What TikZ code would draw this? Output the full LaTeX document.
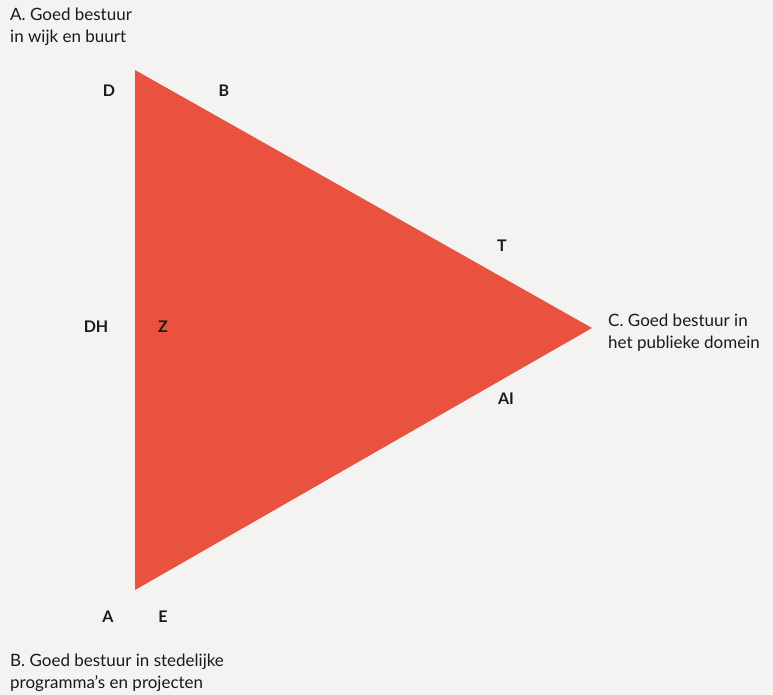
\documentclass[tikz,border=0pt]{standalone}
\usepackage{fontspec}
\setmainfont{Lato}
\definecolor{paper}{HTML}{F4F3F1}
\definecolor{tri}{HTML}{E8523F}
\definecolor{ink}{HTML}{1A1A1A}
\begin{document}
\begin{tikzpicture}[x=1pt,y=-1pt,
  caption/.style={anchor=base west,align=left,inner sep=0pt,text=ink,
    font=\fontsize{17}{22}\selectfont},
  tag/.style={anchor=center,inner sep=0pt,text=ink,
    font=\fontsize{16}{18}\selectfont\bfseries}]
  % canvas
  \fill[paper] (0,0) rectangle (773,695);
  \useasboundingbox (0,0) rectangle (773,695);
  % triangle
  \coordinate (top) at (135,70);
  \coordinate (bot) at (135,590);
  \coordinate (tip) at (592,328);
  \fill[tri] (top) -- (tip) -- (bot) -- cycle;
  % corner captions (anchored at the baseline of the last line)
  \node[caption] (capA) at (10,43) {A. Goed bestuur\\in wijk en buurt};
  \node[caption] (capC) at (608,348) {C. Goed bestuur in\\het publieke domein};
  \node[caption] (capB) at (10,688) {B. Goed bestuur in stedelijke\\programma’s en projecten};
  % letter tags
  \node[tag] (tD)  at (109,91)  {D};
  \node[tag] (tB)  at (224,91)  {B};
  \node[tag] (tT)  at (502,246) {T};
  \node[tag] (tDH) at (96,327)  {DH};
  \node[tag] (tZ)  at (163,327) {Z};
  \node[tag] (tAI) at (506,399) {AI};
  \node[tag] (tA)  at (108,617) {A};
  \node[tag] (tE)  at (163,617) {E};
\end{tikzpicture}
\end{document}
